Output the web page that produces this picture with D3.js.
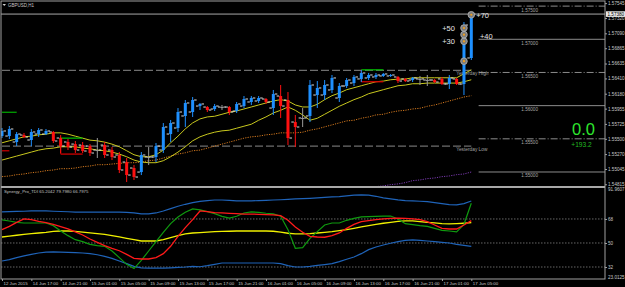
<!DOCTYPE html>
<html>
<head>
<meta charset="utf-8">
<script src="https://cdn.jsdelivr.net/npm/d3@7"></script>
<style>
html, body { margin: 0; padding: 0; background: #000; }
svg { display: block; font-family: "Liberation Sans", Arial, sans-serif; }
</style>
</head>
<body>
<div class="container"></div>
<script>
// GBPUSD H1 bars (hourly)
const timeLabels = ["12 Jun 2015", "14 Jun 17:00", "14 Jun 21:00", "15 Jun 01:00", "15 Jun 05:00", "15 Jun 09:00",
    "15 Jun 13:00", "15 Jun 17:00", "15 Jun 21:00", "16 Jun 01:00", "16 Jun 05:00", "16 Jun 09:00",
    "16 Jun 13:00", "16 Jun 17:00", "16 Jun 21:00", "17 Jun 01:00", "17 Jun 05:00"];

const opens = [1.55542, 1.55542, 1.55452, 1.55557, 1.55482, 1.55572, 1.55572, 1.55603, 1.55512, 1.55452,
    1.55421, 1.55406, 1.55391, 1.55331, 1.55406, 1.55331, 1.55256, 1.55150, 1.55060, 1.54999,
    1.55226, 1.55226, 1.55331, 1.55572, 1.55663, 1.55844, 1.55904, 1.55994, 1.55979, 1.55949,
    1.55979, 1.55979, 1.55919, 1.55994, 1.56055, 1.56070, 1.56100, 1.55964, 1.56145, 1.56085,
    1.55753, 1.55814, 1.55844, 1.56160, 1.56160, 1.56236, 1.56115, 1.56296, 1.56341, 1.56402,
    1.56417, 1.56432, 1.56447, 1.56447, 1.56432, 1.56402, 1.56386, 1.56402, 1.56386, 1.56386,
    1.56402, 1.56326, 1.56402, 1.56326, 1.56718];
const highs = [1.55663, 1.55693, 1.55603, 1.55588, 1.55648, 1.55663, 1.55648, 1.55618, 1.55557, 1.55497,
    1.55467, 1.55452, 1.55421, 1.55512, 1.55452, 1.55376, 1.55301, 1.55211, 1.55105, 1.55301,
    1.55376, 1.55437, 1.55738, 1.55784, 1.55964, 1.56085, 1.56130, 1.56040, 1.55994, 1.56025,
    1.56010, 1.55994, 1.56055, 1.56145, 1.56145, 1.56145, 1.56115, 1.56236, 1.56311, 1.56205,
    1.55859, 1.55964, 1.56386, 1.56371, 1.56386, 1.56462, 1.56341, 1.56417, 1.56462, 1.56537,
    1.56492, 1.56492, 1.56492, 1.56477, 1.56447, 1.56417, 1.56432, 1.56447, 1.56462, 1.56402,
    1.56432, 1.56462, 1.56417, 1.57260, 1.57396];
const lows = [1.55512, 1.55497, 1.55391, 1.55512, 1.55391, 1.55527, 1.55557, 1.55437, 1.55286, 1.55331,
    1.55286, 1.55286, 1.55241, 1.55211, 1.55211, 1.55180, 1.54984, 1.54849, 1.54879, 1.54954,
    1.55105, 1.55150, 1.55286, 1.55452, 1.55603, 1.55678, 1.55829, 1.55934, 1.55904, 1.55919,
    1.55934, 1.55859, 1.55889, 1.55964, 1.56010, 1.56040, 1.56025, 1.55859, 1.55814, 1.55406,
    1.55376, 1.55678, 1.55753, 1.55964, 1.56085, 1.56190, 1.56055, 1.56266, 1.56296, 1.56356,
    1.56386, 1.56402, 1.56432, 1.56432, 1.56341, 1.56356, 1.56356, 1.56311, 1.56296, 1.56341,
    1.56311, 1.56251, 1.56311, 1.56160, 1.56688];
const closes = [1.55618, 1.55648, 1.55572, 1.55527, 1.55603, 1.55633, 1.55618, 1.55467, 1.55391, 1.55376,
    1.55331, 1.55316, 1.55286, 1.55331, 1.55256, 1.55226, 1.55030, 1.54954, 1.54924, 1.55256,
    1.55226, 1.55391, 1.55678, 1.55738, 1.55904, 1.56040, 1.56085, 1.56025, 1.55934, 1.55994,
    1.55979, 1.55904, 1.56025, 1.56100, 1.56115, 1.56115, 1.56055, 1.56175, 1.55994, 1.55512,
    1.55678, 1.55814, 1.56311, 1.56266, 1.56311, 1.56417, 1.56296, 1.56386, 1.56432, 1.56492,
    1.56462, 1.56462, 1.56477, 1.56462, 1.56371, 1.56371, 1.56417, 1.56402, 1.56386, 1.56356,
    1.56326, 1.56417, 1.56326, 1.57215, 1.57381];

// price action channel (yellow), long MAs (orange / purple dotted)
const pacUpper = [1.5544, 1.5547, 1.5550, 1.5553, 1.5554, 1.5556, 1.5557, 1.5559, 1.5559, 1.5557,
    1.5554, 1.5551, 1.5548, 1.5547, 1.5545, 1.5542, 1.5538, 1.5532, 1.5526, 1.5523,
    1.5523, 1.5526, 1.5533, 1.5544, 1.5554, 1.5565, 1.5574, 1.5580, 1.5583, 1.5584,
    1.5587, 1.5590, 1.5592, 1.5595, 1.5598, 1.5601, 1.5604, 1.5607, 1.5609, 1.5607,
    1.5601, 1.5598, 1.5598, 1.5602, 1.5609, 1.5615, 1.5619, 1.5624, 1.5627, 1.5630,
    1.5633, 1.5636, 1.5637, 1.5639, 1.5640, 1.5640, 1.5642, 1.5642, 1.5642, 1.5642,
    1.5642, 1.5642, 1.5642, 1.5648, 1.5654];
const pacLower = [1.5518, 1.5521, 1.5524, 1.5527, 1.5530, 1.5533, 1.5535, 1.5536, 1.5538, 1.5538,
    1.5538, 1.5536, 1.5535, 1.5533, 1.5532, 1.5530, 1.5527, 1.5523, 1.5518, 1.5515,
    1.5514, 1.5514, 1.5517, 1.5523, 1.5530, 1.5538, 1.5547, 1.5553, 1.5557, 1.5560,
    1.5562, 1.5563, 1.5566, 1.5569, 1.5572, 1.5578, 1.5583, 1.5589, 1.5593, 1.5598,
    1.5593, 1.5586, 1.5578, 1.5581, 1.5587, 1.5593, 1.5599, 1.5604, 1.5609, 1.5613,
    1.5618, 1.5621, 1.5624, 1.5627, 1.5630, 1.5631, 1.5633, 1.5633, 1.5634, 1.5634,
    1.5634, 1.5634, 1.5634, 1.5636, 1.5639];
const maOrange = [1.5493, 1.5494, 1.5496, 1.5497, 1.5499, 1.5500, 1.5502, 1.5503, 1.5505, 1.5505,
    1.5506, 1.5508, 1.5509, 1.5511, 1.5511, 1.5512, 1.5513, 1.5514, 1.5514, 1.5515,
    1.5517, 1.5518, 1.5521, 1.5524, 1.5527, 1.5529, 1.5532, 1.5533, 1.5536, 1.5539,
    1.5542, 1.5545, 1.5548, 1.5551, 1.5553, 1.5554, 1.5556, 1.5557, 1.5559, 1.5559,
    1.5559, 1.5560, 1.5563, 1.5565, 1.5568, 1.5571, 1.5574, 1.5577, 1.5578, 1.5581,
    1.5583, 1.5586, 1.5587, 1.5590, 1.5592, 1.5593, 1.5595, 1.5596, 1.5599, 1.5601,
    1.5604, 1.5607, 1.5610, 1.5613, 1.5615];
const maPurple = [null, null, null, null, null, null, null, null, null, null,
    null, null, null, null, null, null, null, null, null, null,
    null, null, null, null, null, null, null, null, null, null,
    null, null, null, null, null, null, null, null, null, null,
    null, null, null, null, null, null, null, null, 1.5473, 1.5475,
    1.5476, 1.5478, 1.5479, 1.5481, 1.5482, 1.5484, 1.5487, 1.5488, 1.5490, 1.5491,
    1.5493, 1.5494, 1.5496, 1.5497, 1.5500];

// levels and objects on the price chart
const bidPrice = 1.57380;
const yesterdayHigh = 1.5653, yesterdayLow = 1.5539;
const roundLevels = [1.575, 1.57, 1.565, 1.56, 1.555, 1.55];
const priceTicks = [1.57545, 1.57320, 1.57090, 1.56865, 1.56635, 1.56410, 1.56180, 1.55955, 1.55725, 1.55500, 1.55270, 1.55045, 1.54815];
const stubs = [[0, 2, 1.5590, "#00a000"], [0, 1, 1.5532, "#c00000"]];
const boxes = [[8, 11, 1.5551, 1.5527], [49, 52, 1.5654, 1.5636]];
const entryPrice = 1.5667, targetPips = [30, 40, 50, 70];
const pipsText = "0.0", totalText = "+193.2";

// Synergy TDI
const tdiTitle = "Synergy_Pro_TDI 65.2042 79.7980 66.7975";
const tdiLevels = [68, 50, 32];
const tdiMax = 91.9607, tdiMin = 23.0125;
const tdiUpper = [73.3, 73.5, 73.7, 73.8, 74.0, 74.0, 74.0, 73.8, 73.6, 73.4,
    73.2, 73.2, 73.2, 73.2, 73.2, 73.2, 73.2, 73.0, 72.5, 71.8,
    71.8, 72.5, 74.0, 75.8, 77.5, 79.0, 80.3, 81.2, 81.8, 82.2,
    82.2, 82.0, 81.6, 81.5, 81.6, 81.8, 82.0, 82.2, 82.4, 82.7,
    83.0, 83.2, 83.5, 83.8, 84.2, 84.5, 84.8, 85.3, 85.8, 86.0,
    85.8, 85.0, 83.8, 83.0, 82.3, 81.8, 81.5, 81.3, 81.0, 80.3,
    79.5, 78.8, 78.5, 79.5, 81.5];
const tdiLower = [36.5, 37.5, 39.0, 40.3, 41.5, 42.5, 43.2, 43.3, 43.2, 43.0,
    42.8, 42.5, 42.0, 41.2, 40.0, 38.5, 36.5, 34.5, 32.5, 31.3,
    31.2, 31.2, 31.2, 31.4, 31.7, 32.0, 32.5, 32.2, 33.0, 34.0,
    35.0, 35.0, 35.0, 35.0, 35.0, 35.0, 35.0, 35.0, 34.5, 33.0,
    32.0, 32.0, 32.5, 33.2, 33.8, 34.5, 36.0, 37.8, 39.5, 42.0,
    45.0, 47.0, 48.5, 49.8, 51.0, 52.0, 52.3, 52.0, 51.5, 51.0,
    50.5, 50.0, 49.0, 48.2, 47.5];
const tdiBase = [54.5, 55.2, 55.8, 56.5, 57.0, 57.5, 58.0, 58.7, 59.0, 59.0,
    58.7, 58.2, 57.6, 57.0, 56.5, 55.5, 54.5, 53.5, 52.5, 51.5,
    51.5, 51.5, 52.5, 54.0, 55.5, 56.8, 57.5, 57.8, 58.2, 58.5,
    58.7, 58.8, 59.0, 59.0, 59.0, 59.0, 59.0, 58.8, 58.2, 57.3,
    56.8, 56.8, 57.0, 57.5, 58.0, 58.5, 59.2, 60.0, 61.0, 62.0,
    63.0, 64.0, 64.8, 65.5, 66.2, 66.5, 66.5, 66.0, 65.5, 65.0,
    64.5, 64.3, 64.5, 64.8, 65.2];
const tdiSignal = [60.0, 62.5, 65.5, 68.0, 67.5, 66.2, 65.2, 64.0, 62.3, 60.5,
    58.3, 56.0, 53.0, 50.5, 48.0, 46.0, 44.2, 41.5, 38.5, 38.0,
    38.0, 39.0, 42.0, 47.5, 55.0, 61.5, 67.5, 74.0, 73.5, 72.8,
    72.5, 72.2, 72.0, 71.7, 71.7, 71.5, 71.3, 71.0, 70.5, 67.0,
    62.0, 58.0, 55.0, 54.5, 54.3, 55.5, 57.5, 61.0, 64.0, 66.0,
    66.8, 67.5, 68.0, 68.5, 68.7, 68.5, 68.0, 67.5, 66.0, 63.5,
    61.0, 60.5, 60.5, 63.5, 66.8];
const tdiRsi = [67.3, 66.5, 65.5, 65.0, 65.0, 65.0, 65.0, 63.0, 59.0, 55.5,
    52.5, 51.0, 49.0, 48.0, 47.5, 44.0, 39.0, 34.0, 30.8, 37.0,
    44.0, 51.0, 58.0, 64.5, 69.5, 73.0, 75.5, 74.8, 73.5, 72.0,
    70.0, 68.7, 70.0, 72.5, 73.3, 73.0, 72.3, 71.8, 70.0, 60.0,
    46.0, 46.5, 53.5, 58.5, 63.5, 65.0, 65.0, 67.0, 68.5, 69.5,
    69.8, 70.0, 70.2, 70.2, 68.0, 64.5, 63.8, 63.0, 62.5, 61.0,
    59.5, 59.0, 58.3, 64.0, 79.8];

const W = 625, H = 287,
    plot = {left: 1, right: 605, top: 1, mainBottom: 186, tdiTop: 188, bottom: 279},
    n = closes.length;

const svg = d3.select('.container')
    .append('svg')
    .attr('width', W)
    .attr('height', H);

svg.append('rect').attr('width', W).attr('height', H).attr('fill', '#000');

const x = d3.scaleLinear().domain([0, n - 1]).range([2, 471.3]);
const y = d3.scaleLinear().domain([1.54789, 1.57577]).range([plot.mainBottom, plot.top]);
const yT = d3.scaleLinear().domain([tdiMin, tdiMax]).range([plot.bottom, plot.tdiTop - 1]);

const defs = svg.append('defs');
defs.append('clipPath').attr('id', 'clipMain').append('rect')
    .attr('x', plot.left).attr('y', plot.top).attr('width', plot.right - plot.left).attr('height', plot.mainBottom - plot.top);
defs.append('clipPath').attr('id', 'clipTdi').append('rect')
    .attr('x', plot.left).attr('y', plot.tdiTop).attr('width', plot.right - plot.left).attr('height', plot.bottom - plot.tdiTop);

const main = svg.append('g').attr('clip-path', 'url(#clipMain)');
const tdi = svg.append('g').attr('clip-path', 'url(#clipTdi)');

// round number levels on the right
roundLevels.forEach((lv, i) => {
    main.append('line')
        .attr('x1', x(n)).attr('x2', plot.right)
        .attr('y1', y(lv)).attr('y2', y(lv))
        .attr('stroke', '#8c8c8c').attr('stroke-width', 1)
        .attr('stroke-dasharray', i % 2 === 0 ? '7,2,1,2' : null);
    main.append('text')
        .attr('x', x(n) + 51).attr('y', y(lv) + 5.5)
        .attr('text-anchor', 'middle').attr('font-size', 4.6).attr('fill', '#a8a8a8')
        .text(d3.format('.5f')(lv));
});

// yesterday high / low
[[yesterdayHigh, 'Yesterday High'], [yesterdayLow, 'Yesterday Low']].forEach(([p, label]) => {
    main.append('line')
        .attr('x1', plot.left + 1).attr('x2', x(n - 1))
        .attr('y1', y(p)).attr('y2', y(p))
        .attr('stroke', '#6e6e6e').attr('stroke-width', 1.3)
        .attr('stroke-dasharray', '8,3');
    main.append('text')
        .attr('x', x(n - 3) - 0.5).attr('y', y(p) + 5)
        .attr('font-size', 4.8).attr('fill', '#a0a0a0')
        .text(label);
});

// bid line
main.append('line')
    .attr('x1', plot.left).attr('x2', plot.right)
    .attr('y1', y(bidPrice)).attr('y2', y(bidPrice))
    .attr('stroke', '#a8a8a8').attr('stroke-width', 1);

const lineOf = (scale, data) => d3.line()
    .defined(d => d != null)
    .x((d, i) => x(i))
    .y(d => scale(d))(data);

main.append('path').attr('d', lineOf(y, maOrange))
    .attr('fill', 'none').attr('stroke', '#d2781e').attr('stroke-width', 1).attr('stroke-dasharray', '1.2,1.2');
main.append('path').attr('d', lineOf(y, maPurple))
    .attr('fill', 'none').attr('stroke', '#7a3ab0').attr('stroke-width', 1).attr('stroke-dasharray', '1.2,1.2');
[pacUpper, pacLower].forEach(s => {
    main.append('path').attr('d', lineOf(y, s))
        .attr('fill', 'none').attr('stroke', '#c8c81e').attr('stroke-width', 1);
});

// signal lines / boxes
stubs.forEach(([a, b, p, c]) => {
    main.append('line').attr('x1', x(a)).attr('x2', x(b)).attr('y1', y(p)).attr('y2', y(p))
        .attr('stroke', c).attr('stroke-width', 1.3);
});
boxes.forEach(([a, b, top, bot]) => {
    main.append('line').attr('x1', x(a)).attr('x2', x(b)).attr('y1', y(top)).attr('y2', y(top))
        .attr('stroke', '#00b400').attr('stroke-width', 1.3);
    main.append('line').attr('x1', x(a)).attr('x2', x(b)).attr('y1', y(bot)).attr('y2', y(bot))
        .attr('stroke', '#d00000').attr('stroke-width', 1.3);
    main.append('line').attr('x1', x(a)).attr('x2', x(a)).attr('y1', y(top)).attr('y2', y(bot))
        .attr('stroke', '#d00000').attr('stroke-width', 1);
});

// candles
const bars = d3.range(n).map(i => ({i, o: opens[i], h: highs[i], l: lows[i], c: closes[i]}));
const colorOf = d => d.c > d.o ? '#1e90ff' : d.c < d.o ? '#ff1010' : '#9a9a9a';

const candle = main.selectAll('.candle')
    .data(bars)
    .enter()
    .append('g')
    .attr('class', 'candle');

candle.append('line')
    .attr('x1', d => x(d.i)).attr('x2', d => x(d.i))
    .attr('y1', d => y(d.h)).attr('y2', d => y(d.l))
    .attr('stroke', colorOf).attr('stroke-width', 1);

candle.append('rect')
    .attr('x', d => x(d.i) - 1.5).attr('width', 3)
    .attr('y', d => y(Math.max(d.o, d.c)))
    .attr('height', d => Math.max(1, Math.abs(y(d.o) - y(d.c))))
    .attr('fill', colorOf);

candle.append('line')
    .attr('x1', d => x(d.i) - 4).attr('x2', d => x(d.i) - 1.5)
    .attr('y1', d => y(d.o)).attr('y2', d => y(d.o))
    .attr('stroke', '#dcdcdc').attr('stroke-width', 1);
candle.append('line')
    .attr('x1', d => x(d.i) + 1.5).attr('x2', d => x(d.i) + 4)
    .attr('y1', d => y(d.c)).attr('y2', d => y(d.c))
    .attr('stroke', '#dcdcdc').attr('stroke-width', 1);

// trade markers
const marks = [{bar: n - 2, p: entryPrice, label: null}]
    .concat(targetPips.map(pp => ({bar: pp === 70 ? n - 1 : n - 2, p: entryPrice + pp / 10000, label: '+' + pp})));
marks.forEach(m => {
    main.append('circle').attr('cx', x(m.bar)).attr('cy', y(m.p)).attr('r', 3.3)
        .attr('fill', '#7c7c7c').attr('stroke', '#b4b4b4').attr('stroke-width', 0.8);
    main.append('circle').attr('cx', x(m.bar)).attr('cy', y(m.p)).attr('r', 1.1).attr('fill', '#f0a020');
    if (!m.label) return;
    const right = m.label === '+70' || m.label === '+40';
    main.append('text')
        .attr('x', right ? x(m.bar) + (m.label === '+40' ? 16 : 5) : x(m.bar) - 9)
        .attr('y', y(m.p) + (m.label === '+40' ? 4.5 : 2.8))
        .attr('text-anchor', right ? 'start' : 'end')
        .attr('font-size', 7.5).attr('fill', '#e6e6e6')
        .text(m.label);
});

// big pips counter
svg.append('text').attr('x', 583.5).attr('y', y(1.5556)).attr('text-anchor', 'middle')
    .attr('font-size', 16.5).attr('fill', '#2ee62e').text(pipsText);
svg.append('text').attr('x', 581.5).attr('y', y(1.5539) + 0.5).attr('text-anchor', 'middle')
    .attr('font-size', 6.6).attr('fill', '#22bb22').text(totalText);

// chart title
svg.append('path').attr('d', 'M2.5,4 L6,4 L4.25,6 Z').attr('fill', '#d0d0d0');
svg.append('text').attr('x', 8).attr('y', 6.5).attr('font-size', 4.5).attr('fill', '#c8c8c8').text('GBPUSD,H1');

// ---- TDI window ----
tdiLevels.forEach(v => {
    tdi.append('line').attr('x1', plot.left).attr('x2', plot.right)
        .attr('y1', yT(v)).attr('y2', yT(v))
        .attr('stroke', '#808080').attr('stroke-width', 0.8).attr('stroke-dasharray', '1.5,1.5');
});
[[tdiUpper, '#1f63b8', 1.2], [tdiLower, '#1f63b8', 1.2], [tdiBase, '#f0f000', 1.3],
 [tdiRsi, '#0f9a0f', 1.2], [tdiSignal, '#ff1a1a', 1.3]].forEach(([s, c, w]) => {
    tdi.append('path').attr('d', lineOf(yT, s))
        .attr('fill', 'none').attr('stroke', c).attr('stroke-width', w);
});
svg.append('text').attr('x', 4).attr('y', 192.5).attr('font-size', 4.3).attr('fill', '#c0c0c0').text(tdiTitle);

// frames
svg.append('rect').attr('x', plot.left).attr('y', plot.top).attr('width', plot.right - plot.left).attr('height', plot.bottom - plot.top)
    .attr('fill', 'none').attr('stroke', '#a0a0a0').attr('stroke-width', 1);
svg.append('line').attr('x1', plot.left).attr('x2', plot.right).attr('y1', 187).attr('y2', 187)
    .attr('stroke', '#a8a8a8').attr('stroke-width', 2);

// price axis
const yAxis = svg.append('g').attr('transform', `translate(${plot.right},0)`)
    .call(d3.axisRight(y).tickValues(priceTicks).tickSize(2).tickFormat(d3.format('.5f')));
yAxis.select('.domain').remove();
yAxis.selectAll('line').attr('stroke', '#a0a0a0');
yAxis.selectAll('text').attr('x', 3).attr('font-size', 4.6).attr('fill', '#c8c8c8').attr('font-family', 'Liberation Sans, Arial');

const bid = svg.append('g').attr('transform', `translate(${plot.right},${y(bidPrice)})`);
bid.append('rect').attr('x', 1).attr('y', -2.8).attr('width', 19).attr('height', 5.6).attr('fill', '#e8e8e8');
bid.append('text').attr('x', 2.5).attr('y', 1.7).attr('font-size', 4.6).attr('fill', '#000').text(d3.format('.5f')(bidPrice));

// tdi axis
const tAxis = svg.append('g').attr('transform', `translate(${plot.right},0)`)
    .call(d3.axisRight(yT).tickValues(tdiLevels).tickSize(2).tickFormat(d3.format('d')));
tAxis.select('.domain').remove();
tAxis.selectAll('line').attr('stroke', '#a0a0a0');
tAxis.selectAll('text').attr('x', 3).attr('font-size', 4.6).attr('fill', '#c8c8c8').attr('font-family', 'Liberation Sans, Arial');
[[tdiMax, 2.5], [tdiMin, -2]].forEach(([v, dy]) => {
    svg.append('text').attr('x', plot.right + 3).attr('y', yT(v) + dy + 1.5)
        .attr('font-size', 4.6).attr('fill', '#c8c8c8').text(d3.format('.4f')(v));
});

// time axis
const xAxis = svg.append('g').attr('transform', `translate(0,${plot.bottom})`)
    .call(d3.axisBottom(x).tickValues(d3.range(0, n, 4)).tickSize(2).tickFormat((d, i) => timeLabels[i]));
xAxis.select('.domain').remove();
xAxis.selectAll('line').attr('stroke', '#a0a0a0');
xAxis.selectAll('text').attr('text-anchor', 'start').attr('x', 1).attr('y', 3.2)
    .attr('font-size', 4.4).attr('fill', '#c8c8c8').attr('font-family', 'Liberation Sans, Arial');
</script>
</body>
</html>
